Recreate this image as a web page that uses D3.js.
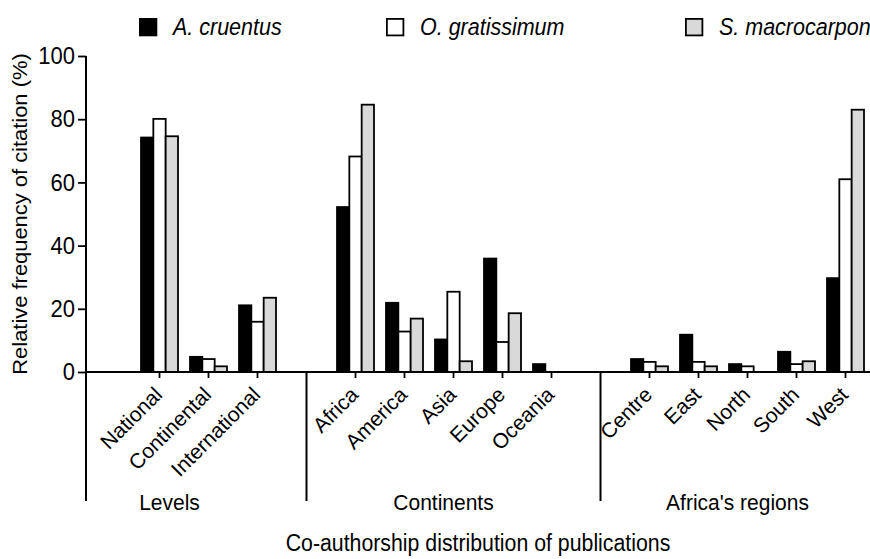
<!DOCTYPE html>
<html>
<head>
<meta charset="utf-8">
<script src="https://cdn.jsdelivr.net/npm/d3@7"></script>
<style>
  html, body { margin: 0; padding: 0; background: #fff; }
  svg { display: block; font-family: "Liberation Sans", Arial, Helvetica, sans-serif; }
</style>
</head>
<body>
<svg id="chart" width="870" height="559"></svg>
<script>
// ---------- data ----------
const seriesNames = ["A. cruentus", "O. gratissimum", "S. macrocarpon"];
const seriesColors = ["#000000", "#ffffff", "#d9d9d9"];

const groups = ["Levels", "Continents", "Africa's regions"];
const categories = ["National", "Continental", "International",
                    "Africa", "America", "Asia", "Europe", "Oceania",
                    "Centre", "East", "North", "South", "West"];
const categoryGroup = [0, 0, 0, 1, 1, 1, 1, 1, 2, 2, 2, 2, 2];

const aCruentus    = [74.2, 4.8, 21.1, 52.2, 21.9, 10.3, 35.9, 2.5, 4.1, 11.8, 2.5, 6.4, 29.7];
const oGratissimum = [80.1, 4.1, 15.9, 68.2, 12.8, 25.4, 9.5, 0,   3.2, 3.2,  1.8, 2.5, 61.0];
const sMacrocarpon = [74.6, 1.8, 23.5, 84.6, 16.9, 3.4, 18.6, 0,   1.8, 1.8,  0,   3.4, 83.0];
const seriesValues = [aCruentus, oGratissimum, sMacrocarpon];

const yTicks = [0, 20, 40, 60, 80, 100];
const yTitle = "Relative frequency of citation (%)";
const xTitle = "Co-authorship distribution of publications";

(function () {
// ---------- layout ----------
const svg = d3.select("#chart");
const mLeft = 86, mRight = 870, mTop = 56, mBottom = 372, groupBottom = 501;
const stretch = 1.08;   // text in the figure is slightly taller than wide

// slot list: a gap slot before every group, then the group's categories
const slots = [];
groups.forEach((g, gi) => {
  slots.push("__gap" + gi);
  categories.forEach((c, ci) => { if (categoryGroup[ci] === gi) slots.push(c); });
});

const x = d3.scaleBand().domain(slots).range([mLeft, mRight]).padding(0);
const xInner = d3.scaleBand().domain(seriesNames)
  .range([0, x.bandwidth() * 0.755]).padding(0);
const y = d3.scaleLinear().domain([0, 100]).range([mBottom, mTop]);

// ---------- bars ----------
const barData = [];
categories.forEach((c, ci) => {
  seriesNames.forEach((s, si) => {
    barData.push({ cat: c, series: s, si, value: seriesValues[si][ci] });
  });
});

const groupOffset = (x.bandwidth() - xInner.range()[1]) / 2;
svg.append("g").selectAll("rect")
  .data(barData.filter(d => d.value > 0))
  .join("rect")
  .attr("x", d => x(d.cat) + groupOffset + xInner(d.series))
  .attr("y", d => y(d.value))
  .attr("width", xInner.bandwidth())
  .attr("height", d => y(0) - y(d.value))
  .attr("fill", d => seriesColors[d.si])
  .attr("stroke", "#000")
  .attr("stroke-width", 1.8);

// ---------- y axis ----------
const yAxis = svg.append("g")
  .attr("transform", `translate(${mLeft},0)`)
  .call(d3.axisLeft(y).tickValues(yTicks).tickSize(8).tickPadding(3).tickFormat(d3.format("d")));
yAxis.select(".domain").remove();
yAxis.selectAll(".tick line").attr("stroke", "#000").attr("stroke-width", 1.8);
yAxis.selectAll(".tick text")
  .attr("font-size", 22).attr("fill", "#000")
  .attr("font-family", "Liberation Sans, Arial, sans-serif")
  .attr("transform", `scale(1,${stretch})`);

// vertical y-axis line extending down to group label area
svg.append("line")
  .attr("x1", mLeft).attr("x2", mLeft)
  .attr("y1", y(100)).attr("y2", groupBottom)
  .attr("stroke", "#000").attr("stroke-width", 2);

// ---------- x axis ----------
svg.append("line")
  .attr("x1", mLeft).attr("x2", mRight)
  .attr("y1", y(0)).attr("y2", y(0))
  .attr("stroke", "#000").attr("stroke-width", 2);

// category ticks
svg.append("g").selectAll("line")
  .data(categories)
  .join("line")
  .attr("x1", d => x(d) + x.bandwidth() / 2)
  .attr("x2", d => x(d) + x.bandwidth() / 2)
  .attr("y1", y(0)).attr("y2", y(0) + 6)
  .attr("stroke", "#000").attr("stroke-width", 1.8);

// rotated category labels
svg.append("g").selectAll("text")
  .data(categories)
  .join("text")
  .attr("transform", d => `translate(${x(d) + x.bandwidth() / 2 + 4},${y(0) + 24}) rotate(-45)`)
  .attr("text-anchor", "end")
  .attr("font-size", 21)
  .attr("fill", "#000")
  .text(d => d);

// group separators at the gap slots (except the first, which is the y axis)
svg.append("g").selectAll("line")
  .data(slots.filter((s, i) => s.startsWith("__gap") && i > 0))
  .join("line")
  .attr("x1", d => x(d) + x.bandwidth() / 2)
  .attr("x2", d => x(d) + x.bandwidth() / 2)
  .attr("y1", y(0)).attr("y2", groupBottom)
  .attr("stroke", "#000").attr("stroke-width", 2);

// group labels
const groupLabelShift = [-39, -10, -10];
svg.append("g").selectAll("text")
  .data(groups)
  .join("text")
  .attr("transform", (g, gi) => {
    const cats = categories.filter((c, ci) => categoryGroup[ci] === gi);
    const a = x(cats[0]) + x.bandwidth() / 2;
    const b = x(cats[cats.length - 1]) + x.bandwidth() / 2;
    return `translate(${(a + b) / 2 + groupLabelShift[gi]},510) scale(1,${stretch})`;
  })
  .attr("text-anchor", "middle")
  .attr("font-size", 21)
  .attr("fill", "#000")
  .text(d => d);

// axis titles
svg.append("text")
  .attr("transform", `translate(27,${(y(0) + y(100)) / 2}) scale(1,${stretch}) rotate(-90)`)
  .attr("text-anchor", "middle")
  .attr("font-size", 20.3)
  .attr("fill", "#000")
  .text(yTitle);

svg.append("text")
  .attr("transform", `translate(${(mLeft + mRight) / 2},551) scale(1,${stretch})`)
  .attr("text-anchor", "middle")
  .attr("font-size", 21.3)
  .attr("fill", "#000")
  .text(xTitle);

// ---------- legend ----------
const legendX = [139, 386, 685];
const legend = svg.append("g").selectAll("g")
  .data(seriesNames)
  .join("g")
  .attr("transform", (d, i) => `translate(${legendX[i]},18)`);
legend.append("rect")
  .attr("x", 0.9).attr("y", 0.9)
  .attr("width", 16.5).attr("height", 16.5)
  .attr("fill", (d, i) => seriesColors[i])
  .attr("stroke", "#000").attr("stroke-width", 1.8);
legend.append("text")
  .attr("transform", `translate(34,16.5) scale(1,${stretch})`)
  .attr("font-size", 21.5)
  .attr("font-style", "italic")
  .attr("fill", "#000")
  .text(d => d);
})();
</script>
</body>
</html>
